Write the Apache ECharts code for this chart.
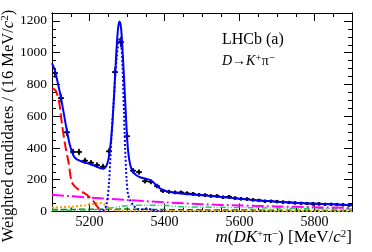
<!DOCTYPE html>
<html>
<head>
<meta charset="utf-8">
<script src="https://cdn.jsdelivr.net/npm/echarts@6/dist/echarts.min.js"></script>
<style>
html,body{margin:0;padding:0;background:#fff;}
#chart{width:372px;height:252px;}
</style>
</head>
<body>
<div id="chart"></div>
<script>
// ---- data ----
const massBins = [5108,5124,5140,5156,5172,5188,5204,5220,5236,5252,5268,5284,5300,5316,5332,5348,5364,5380,5396,5412,5428,5444,5460,5476,5492,5508,5524,5540,5556,5572,5588,5604,5620,5636,5652,5668,5684,5700,5716,5732,5748,5764,5780,5796,5812,5828,5844,5860,5876,5892];
const counts = [872,714,499,375,375,320,307,292,282,379,878,1067,474,257,248,191,187,160,130,124,120,120,114,111,105,103,98,97,90,92,84,80,78,73,70,65,65,62,59,57,54,52,50,48,48,46,46,44,42,40];
const errors = [30,27,23,20,20,19,18,18,18,20,31,34,23,17,17,15,15,14,13,13,12,12,12,12,11,11,11,11,10,10,10,10,10,9,9,9,9,9,9,9,8,8,8,8,8,8,8,8,8,8];

const totalFit = [[5100,935],[5108,885],[5116,805],[5124,715],[5132,610],[5140,505],[5148,415],[5156,358],[5164,332],[5176,318],[5190,306],[5205,296],[5220,282],[5232,270],[5240,272],[5248,305],[5254,380],[5260,520],[5266,750],[5271,980],[5276,1150],[5280,1196],[5284,1160],[5288,1020],[5293,800],[5298,560],[5303,380],[5309,290],[5316,250],[5325,228],[5335,216],[5350,206],[5362,198],[5372,180],[5382,156],[5395,136],[5410,125],[5430,116],[5460,110],[5500,102],[5550,92],[5600,80],[5650,70],[5700,62],[5750,55],[5800,50],[5850,45],[5900,40]];
const signalFit = [[5225,0],[5236,5],[5245,40],[5252,180],[5258,450],[5263,640],[5268,830],[5273,980],[5277,1060],[5281,1090],[5285,1040],[5288,920],[5292,620],[5295,400],[5299,200],[5303,105],[5312,55],[5321,28],[5335,12],[5350,18],[5365,12],[5380,4],[5400,1]];
const partRecoFit = [[5100,777],[5110,760],[5118,700],[5122,640],[5126,560],[5135,420],[5144,310],[5152,190],[5160,160],[5175,130],[5190,110],[5201,88],[5212,60],[5220,32],[5230,12],[5238,2],[5245,0]];
const combFit = [[5100,105],[5200,88],[5300,72],[5400,58],[5500,46],[5600,38],[5700,32],[5800,27],[5900,22]];
const orangeFit = [[5100,25],[5150,30],[5190,40],[5215,50],[5228,55],[5240,45],[5255,18],[5270,8],[5300,5],[5400,4],[5600,3],[5900,2]];
const greenFit = [[5100,8],[5200,10],[5250,20],[5300,36],[5350,40],[5400,38],[5450,30],[5500,28],[5600,25],[5700,22],[5800,18],[5900,15]];
const darkFit = [[5100,12],[5200,14],[5300,15],[5400,12],[5500,10],[5700,8],[5900,6]];

const xMajor = [5200,5400,5600,5800];
const yMajor = [0,200,400,600,800,1000,1200];

const serif = '"Liberation Serif", "DejaVu Serif", serif';
const chart = echarts.init(document.getElementById('chart'), null, {renderer:'canvas'});
const plain = function(v){ return String(v); };

function xAx(pos, major, labels) {
  const a = {
    type:'value', gridIndex:0, position:pos, min:5100, max:5900,
    interval: major ? 100 : 50,
    axisLine:{show:true, onZero:false, lineStyle:{color:'#000', width:1}},
    axisTick:{show:true, inside:true, length: major ? 8 : 4, lineStyle:{color:'#000', width:1}},
    axisLabel:{show:false},
    splitLine:{show:false}
  };
  if (major) {
    a.axisTick.customValues = xMajor;
    a.axisLabel = {show:labels, customValues:xMajor, formatter:plain, color:'#000', fontFamily:serif, fontSize:14, margin:4};
  }
  return a;
}
function yAx(pos, major, labels) {
  const a = {
    type:'value', gridIndex:0, position:pos, min:0, max:1250,
    interval: major ? 200 : 50,
    axisLine:{show:true, onZero:false, lineStyle:{color:'#000', width:1}},
    axisTick:{show:true, inside:true, length: major ? 8 : 4, lineStyle:{color:'#000', width:1}},
    axisLabel:{show:false},
    splitLine:{show:false}
  };
  if (major) {
    a.axisTick.customValues = yMajor;
    a.axisLabel = {show:labels, customValues:yMajor, formatter:plain, color:'#000', fontFamily:serif, fontSize:13.5, margin:5};
  }
  return a;
}

const pointData = massBins.map((m,i)=>[m, counts[i], errors[i]]);

function line(data, color, type, width, z) {
  return {type:'line', xAxisIndex:0, yAxisIndex:0, data:data, showSymbol:false, smooth:0.3,
    lineStyle:{color:color, width:width, type:type}, z:z, silent:true, animation:false, clip:true};
}

const sup = {fontFamily:serif, fontSize:11, verticalAlign:'top', lineHeight:12, color:'#000'};

chart.setOption({
  animation:false,
  grid:{left:52, right:20, top:13, bottom:40.5, containLabel:false},
  xAxis:[xAx('bottom',false,false), xAx('bottom',true,true), xAx('top',false,false), xAx('top',true,false)],
  yAxis:[yAx('left',false,false), yAx('left',true,true), yAx('right',false,false), yAx('right',true,false)],
  series:[
    line(darkFit, '#007700', [6,3], 1.5, 2),
    line(greenFit, '#22cc66', [6,2,1,2,1,2], 1.5, 2),
    line(orangeFit, '#ff9900', [2,2], 2, 2),
    line(combFit, '#ff00ff', [12,3,2,3], 2, 3),
    line(partRecoFit, '#ff0000', [10,4], 2, 3),
    {
      type:'custom', xAxisIndex:0, yAxisIndex:0, data:pointData, z:4, animation:false,
      encode:{x:0, y:1},
      renderItem:function(params, api){
        const x = api.value(0), y = api.value(1), e = api.value(2);
        const c = api.coord([x,y]);
        const l = api.coord([x-8,y]), r = api.coord([x+8,y]);
        const t = api.coord([x,y+e]), b = api.coord([x,y-e]);
        const st = {stroke:'#000', lineWidth:1.6};
        return {type:'group', children:[
          {type:'line', shape:{x1:l[0],y1:l[1],x2:r[0],y2:r[1]}, style:st},
          {type:'line', shape:{x1:t[0],y1:t[1],x2:b[0],y2:b[1]}, style:st},
          {type:'circle', shape:{cx:c[0], cy:c[1], r:1.8}, style:{fill:'#000'}}
        ]};
      }
    },
    line(signalFit, '#0000ff', [2,2], 2, 5),
    line(totalFit, '#0000ff', 'solid', 2, 6)
  ],
  graphic:[
    {type:'text', x:222, y:32, style:{text:'LHCb (a)', font:'16px '+serif, fill:'#000'}},
    {type:'text', x:222, y:53, style:{
      text:'{i|D}→{i|K}{s|+}π{s|−}',
      font:'14px '+serif, fill:'#000', lineHeight:16,
      rich:{i:{fontFamily:serif, fontSize:14, fontStyle:'italic', lineHeight:16, color:'#000'}, s:sup}
    }},
    {type:'text', x:352, y:229, style:{
      text:'{i|m}(' + '{i|DK}{s|+}π{s|−}) [MeV/{i|c}{s|2}]',
      font:'17px '+serif, fill:'#000', align:'right', lineHeight:18,
      rich:{i:{fontFamily:serif, fontSize:17, fontStyle:'italic', lineHeight:18, color:'#000'}, s:sup}
    }},
    {type:'text', x:9, y:126, rotation:Math.PI/2, style:{
      text:'Weighted candidates / (16 MeV/{i|c}{s|2})',
      font:'16.5px '+serif, fill:'#000', align:'center', verticalAlign:'middle', lineHeight:18,
      rich:{i:{fontFamily:serif, fontSize:16.5, fontStyle:'italic', lineHeight:18, color:'#000'}, s:sup}
    }}
  ]
});
</script>
</body>
</html>
